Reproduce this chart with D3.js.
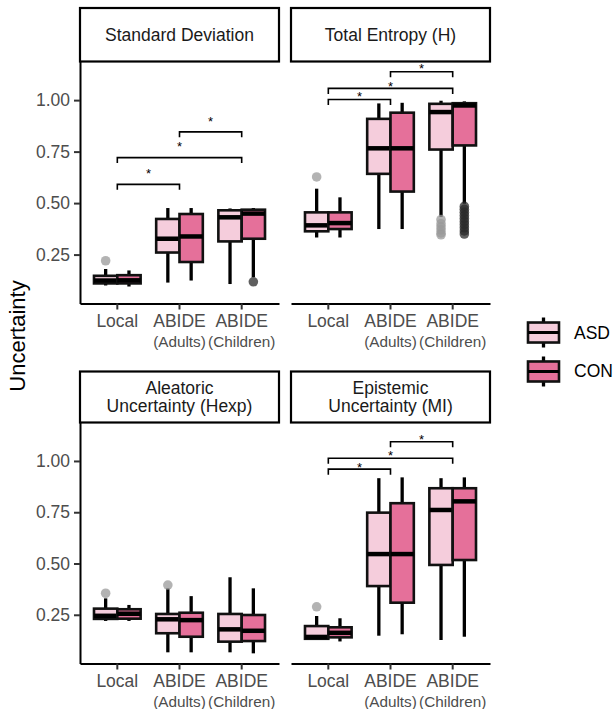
<!DOCTYPE html>
<html>
<head>
<meta charset="utf-8">
<script src="https://cdn.jsdelivr.net/npm/d3@7"></script>
<style>
  body { margin: 0; background: #fff; }
  svg { display: block; font-family: "Liberation Sans", Arial, sans-serif; }
</style>
</head>
<body>
<div id="chart"></div>
<script>
// categories
const groupNames = ["Local", "ABIDE", "ABIDE"];
const groupSubs = ["", "(Adults)", "(Children)"];
const diagnoses = ["ASD", "CON"];
const panelTitles = [
  ["Standard Deviation"],
  ["Total Entropy (H)"],
  ["Aleatoric", "Uncertainty (Hexp)"],
  ["Epistemic", "Uncertainty (MI)"]
];
const yTicks = [0.25, 0.50, 0.75, 1.00];

// box stats, order: Local ASD, Local CON, Adults ASD, Adults CON, Children ASD, Children CON
// [lower whisker, q1, median, q3, upper whisker]
const sdStats = [
  [0.100, 0.110, 0.124, 0.147, 0.180],
  [0.095, 0.110, 0.125, 0.150, 0.173],
  [0.114, 0.260, 0.327, 0.423, 0.476],
  [0.124, 0.214, 0.338, 0.447, 0.476],
  [0.107, 0.314, 0.431, 0.465, 0.474],
  [0.140, 0.327, 0.449, 0.468, 0.476]
];
const sdOutliers = [[0.220], [], [], [], [], [0.118]];

const teStats = [
  [0.333, 0.363, 0.392, 0.455, 0.570],
  [0.333, 0.374, 0.403, 0.455, 0.528],
  [0.374, 0.642, 0.766, 0.909, 0.984],
  [0.374, 0.556, 0.766, 0.939, 0.987],
  [0.433, 0.760, 0.942, 0.982, 0.997],
  [0.497, 0.780, 0.974, 0.985, 0.994]
];
const teOutliers = [
  [0.627], [], [], [],
  [0.420, 0.400, 0.385, 0.370, 0.355, 0.346],
  [0.484, 0.470, 0.455, 0.440, 0.425, 0.410, 0.395, 0.380, 0.365, 0.350]
];

const alStats = [
  [0.220, 0.230, 0.245, 0.280, 0.330],
  [0.220, 0.231, 0.255, 0.277, 0.298],
  [0.067, 0.160, 0.228, 0.254, 0.379],
  [0.067, 0.143, 0.224, 0.260, 0.341],
  [0.067, 0.119, 0.179, 0.254, 0.433],
  [0.062, 0.122, 0.172, 0.249, 0.379]
];
const alOutliers = [[0.355], [], [0.395], [], [], []];

const epStats = [
  [0.127, 0.133, 0.142, 0.195, 0.244],
  [0.120, 0.140, 0.162, 0.189, 0.233],
  [0.148, 0.390, 0.546, 0.748, 0.916],
  [0.155, 0.309, 0.546, 0.794, 0.920],
  [0.127, 0.493, 0.761, 0.867, 0.916],
  [0.143, 0.517, 0.803, 0.867, 0.920]
];
const epOutliers = [[0.289], [], [], [], [], []];

// significance brackets: [from group, to group, bracket y, star y]
const sdBrackets = [[0, 1, 0.591, 0.658], [0, 2, 0.721, 0.788], [1, 2, 0.846, 0.909]];
const teBrackets = [[0, 1, 1.003, 1.031], [0, 2, 1.057, 1.083], [1, 2, 1.138, 1.166]];
const alBrackets = [];
const epBrackets = [[0, 1, 0.960, 0.985], [0, 2, 1.013, 1.040], [1, 2, 1.094, 1.119]];

const panelStats = [sdStats, teStats, alStats, epStats];
const panelOutliers = [sdOutliers, teOutliers, alOutliers, epOutliers];
const panelBrackets = [sdBrackets, teBrackets, alBrackets, epBrackets];

const fills = { ASD: "#F5CDDC", CON: "#E5709A" };
const outlierFill = { ASD: "#9a9a9a", CON: "#2a2a2a" };

const width = 614, height = 709;
const svg = d3.select("#chart").append("svg")
  .attr("width", width).attr("height", height);
svg.append("rect").attr("width", width).attr("height", height).attr("fill", "#fff");

// panel frames: [x0, x1, stripTop, panelTop, panelBottom]
const layout = [
  [80, 279, 8, 61.5, 303.5],
  [291, 490, 8, 61.5, 303.5],
  [80, 279, 371.5, 422.5, 663.5],
  [291, 490, 371.5, 422.5, 663.5]
];
const yDomain = [0.0125, 1.1875];
const textGrey = "#4d4d4d";

panelTitles.forEach((title, p) => {
  const [x0, x1, sTop, pTop, pBot] = layout[p];
  const g = svg.append("g");

  const x = d3.scaleBand().domain(d3.range(3)).range([x0, x1])
    .paddingInner(0).paddingOuter(0.1);
  const step = x.step();
  const dodge = d3.scaleBand().domain(diagnoses)
    .range([-0.375 * step, 0.375 * step]);
  const y = d3.scaleLinear().domain(yDomain).range([pBot, pTop]);

  // strip
  g.append("rect")
    .attr("x", x0).attr("y", sTop)
    .attr("width", x1 - x0).attr("height", pTop - sTop)
    .attr("fill", "#fff").attr("stroke", "#000").attr("stroke-width", 2.2);
  const sMid = (sTop + pTop) / 2;
  title.forEach((line, i) => {
    g.append("text")
      .attr("x", (x0 + x1) / 2)
      .attr("y", sMid + (i - (title.length - 1) / 2) * 18.4)
      .attr("text-anchor", "middle").attr("dominant-baseline", "central")
      .attr("font-size", 17.5).attr("fill", "#1a1a1a")
      .text(line);
  });

  // x axis
  const xAxis = g.append("g").attr("transform", `translate(0,${pBot})`)
    .call(d3.axisBottom(x).tickSize(6).tickSizeOuter(0).tickFormat(""));
  xAxis.select(".domain").attr("stroke", "#000").attr("stroke-width", 2);
  xAxis.selectAll(".tick line").attr("stroke", "#333").attr("stroke-width", 2);
  groupNames.forEach((name, i) => {
    const cx = x(i) + step / 2;
    g.append("text").attr("x", cx).attr("y", pBot + 17.5)
      .attr("text-anchor", "middle").attr("dominant-baseline", "central")
      .attr("font-size", 17.5).attr("fill", textGrey).text(name);
    if (groupSubs[i]) {
      g.append("text").attr("x", cx).attr("y", pBot + 38)
        .attr("text-anchor", "middle").attr("dominant-baseline", "central")
        .attr("font-size", 15.3).attr("fill", textGrey).text(groupSubs[i]);
    }
  });

  // y axis only on the left column
  if (p % 2 === 0) {
    const yAxis = g.append("g").attr("transform", `translate(${x0},0)`)
      .call(d3.axisLeft(y).tickValues(yTicks).tickFormat(d3.format(".2f"))
        .tickSize(6).tickSizeOuter(0));
    yAxis.select(".domain").attr("stroke", "#000").attr("stroke-width", 2);
    yAxis.selectAll(".tick line").attr("stroke", "#333").attr("stroke-width", 2);
    yAxis.selectAll(".tick text")
      .attr("font-size", 17.5).attr("fill", textGrey)
      .attr("font-family", '"Liberation Sans", Arial, sans-serif')
      .attr("x", -10);
  }

  // boxes
  panelStats[p].forEach((s, k) => {
    const grp = Math.floor(k / 2), diag = diagnoses[k % 2];
    const cx = x(grp) + step / 2 + dodge(diag) + dodge.bandwidth() / 2;
    const bw = dodge.bandwidth();
    const [lo, q1, med, q3, hi] = s;
    const bg = g.append("g");
    bg.append("line").attr("x1", cx).attr("x2", cx)
      .attr("y1", y(hi)).attr("y2", y(q3))
      .attr("stroke", "#000").attr("stroke-width", 3.3);
    bg.append("line").attr("x1", cx).attr("x2", cx)
      .attr("y1", y(q1)).attr("y2", y(lo))
      .attr("stroke", "#000").attr("stroke-width", 3.3);
    bg.selectAll("circle").data(panelOutliers[p][k]).join("circle")
      .attr("cx", cx).attr("cy", d => y(d)).attr("r", 4.8)
      .attr("fill", outlierFill[diag]).attr("fill-opacity", 0.75);
    bg.append("rect")
      .attr("x", cx - bw / 2).attr("y", y(q3))
      .attr("width", bw).attr("height", y(q1) - y(q3))
      .attr("fill", fills[diag]).attr("stroke", "#111").attr("stroke-width", 2.6);
    bg.append("line").attr("x1", cx - bw / 2).attr("x2", cx + bw / 2)
      .attr("y1", y(med)).attr("y2", y(med))
      .attr("stroke", "#000").attr("stroke-width", 4.5);
  });

  // significance brackets
  const tip = 5.5;
  panelBrackets[p].forEach(([a, b, yl, ys]) => {
    const xa = x(a) + step / 2, xb = x(b) + step / 2;
    g.append("path")
      .attr("d", `M${xa},${y(yl) + tip}V${y(yl)}H${xb}V${y(yl) + tip}`)
      .attr("fill", "none").attr("stroke", "#000").attr("stroke-width", 1.6);
    g.append("text").attr("x", (xa + xb) / 2).attr("y", y(ys) + 7.5)
      .attr("text-anchor", "middle").attr("font-size", 13).attr("fill", "#000")
      .text("*");
  });
});

// y title
svg.append("text")
  .attr("transform", "translate(17,336) rotate(-90)")
  .attr("text-anchor", "middle").attr("dominant-baseline", "central")
  .attr("font-size", 22).attr("fill", "#000").text("Uncertainty");

// legend
const legY = d3.scaleBand().domain(diagnoses).range([314, 390]).paddingInner(0.05);
diagnoses.forEach(d => {
  const ky = legY(d), kh = legY.bandwidth();
  const lg = svg.append("g");
  const kx0 = 528, kx1 = 559, kc = (kx0 + kx1) / 2, mid = ky + kh / 2;
  lg.append("line").attr("x1", kc).attr("x2", kc)
    .attr("y1", mid - 15).attr("y2", mid + 15)
    .attr("stroke", "#000").attr("stroke-width", 3.3);
  lg.append("rect").attr("x", kx0).attr("y", mid - 10)
    .attr("width", kx1 - kx0).attr("height", 20)
    .attr("fill", fills[d]).attr("stroke", "#111").attr("stroke-width", 2.6);
  lg.append("line").attr("x1", kx0).attr("x2", kx1)
    .attr("y1", mid).attr("y2", mid)
    .attr("stroke", "#000").attr("stroke-width", 3);
  lg.append("text").attr("x", 574).attr("y", mid)
    .attr("dominant-baseline", "central").attr("font-size", 17.5)
    .attr("fill", "#000").text(d);
});
</script>
</body>
</html>
